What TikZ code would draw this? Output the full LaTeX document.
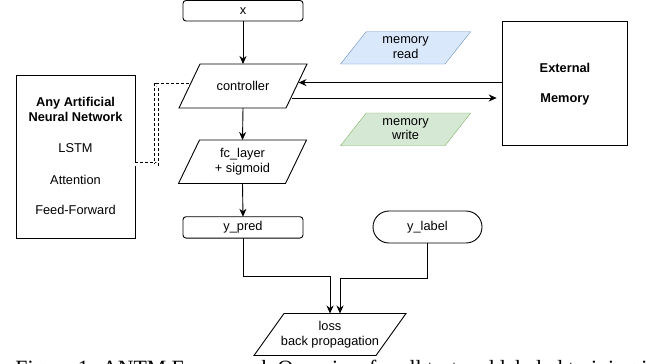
\documentclass[tikz,border=0pt]{standalone}
\usepackage{fontspec}
\setmainfont{Liberation Sans}
\newfontfamily\capfont{Liberation Serif}
\usetikzlibrary{arrows.meta,calc,backgrounds}
\definecolor{readfill}{HTML}{DAE8FC}
\definecolor{readline}{HTML}{6C8EBF}
\definecolor{writefill}{HTML}{D5E8D4}
\definecolor{writeline}{HTML}{82B366}
\newcommand{\drawpara}[3]{\draw[#3] ([xshift=#2]#1.north west) -- ([xshift=#2]#1.north east) -- ([xshift=-#2]#1.south east) -- ([xshift=-#2]#1.south west) -- cycle;}
\begin{document}
\begin{tikzpicture}[x=1pt,y=-1pt,
  font=\fontsize{12.8pt}{14.5pt}\selectfont,
  line width=0.9pt,
  rbox/.style={draw, rounded corners=3pt, inner sep=0pt, outer sep=0pt},
  sqbox/.style={draw, inner sep=0pt, outer sep=0pt},
  parabox/.style={inner sep=0pt, outer sep=0pt, align=center},
  plain/.style={inner sep=0pt, outer sep=0pt, align=center},
  arr/.style={-{Stealth[length=8pt,width=7pt]}},
  linkline/.style={dashed, dash pattern=on 3pt off 2pt, double, double distance=3pt, line width=0.8pt}]
\useasboundingbox (0,0) rectangle (646,364);

% main column
\node[rbox, minimum width=120pt, minimum height=20.5pt] (x) at (243,10.75) {x};
\node[parabox, minimum width=107pt, minimum height=44pt] (ctrl) at (243,86) {controller};
\drawpara{ctrl}{10.5pt}{}
\node[parabox, minimum width=107pt, minimum height=43.5pt] (fc) at (242.5,161.75) {fc\_layer\\+ sigmoid};
\drawpara{fc}{10.5pt}{}
\node[rbox, minimum width=120pt, minimum height=21.3pt] (ypred) at (243,227.4) {y\_pred};
\node[rbox, rounded corners=16pt, minimum width=109pt, minimum height=32pt] (ylabel) at (427.5,227) {y\_label};
\node[parabox, minimum width=122pt, minimum height=42pt] (loss) at (330,334.5) {loss\\back propagation};
\drawpara{loss}{15pt}{}

% memory
\node[parabox, minimum width=104.5pt, minimum height=32.3pt] (mread) at (405.6,47.85) {memory\\read};
\node[parabox, minimum width=104.5pt, minimum height=32.7pt] (mwrite) at (405.6,129.35) {memory\\write};
\begin{scope}[on background layer]
\drawpara{mread}{12.8pt}{fill=readfill, draw=readline}
\drawpara{mwrite}{12.8pt}{fill=writefill, draw=writeline}
\end{scope}
\node[sqbox, minimum width=124.6pt, minimum height=124.7pt] (ext) at (565,83.35) {};
\node[plain, font=\fontsize{12.8pt}{14.5pt}\selectfont\bfseries] (extA) at (565,68) {External};
\node[plain, font=\fontsize{12.8pt}{14.5pt}\selectfont\bfseries] (extB) at (565,99) {Memory};

% ANN box
\node[sqbox, minimum width=119pt, minimum height=163pt] (ann) at (75.5,156.5) {};
\node[plain, font=\fontsize{12.8pt}{15pt}\selectfont\bfseries] (annT) at (75.5,109.5) {Any Artificial\\Neural Network};
\node[plain] (lstm) at (75.5,148) {LSTM};
\node[plain] (att) at (75.5,180) {Attention};
\node[plain] (ff) at (75.5,210) {Feed-Forward};

% connectors
\draw[arr] (x.south) -- (ctrl.north);
\draw[arr] (ctrl.south) -- (fc.north);
\draw[arr] (fc.south) -- (ypred.north);
\draw[arr] (ypred.south) -- ++(0,38) -| (loss.north);
\coordinate (lossin) at ([xshift=10pt]loss.north);
\draw[arr] (ylabel.south) -- ++(0,35) -| (lossin);

\coordinate (cin) at ([shift={(2,-3.4)}]ctrl.east);
\draw[arr] (ext.west |- cin) -- (cin);
\coordinate (cout) at ([shift={(-5,12)}]ctrl.east);
\coordinate (extin) at ([xshift=-6pt]ext.west);
\draw[arr] (cout) -- (extin |- cout);

\coordinate (annout) at ([yshift=-7.5pt]ann.east);
\coordinate (cleft) at ([shift={(0.5,-1)}]ctrl.west);
\draw[linkline] (annout) -- ++(21.5,0) |- (cleft);

% caption (cut by the page border, as in the reference)
\node[anchor=base west, inner sep=0pt, font=\capfont\fontsize{21.8pt}{26pt}\selectfont] (cap) at (15,375.6) {Figure 1: ANTM Framework Overview for all test and labeled training instances};
\end{tikzpicture}
\end{document}
